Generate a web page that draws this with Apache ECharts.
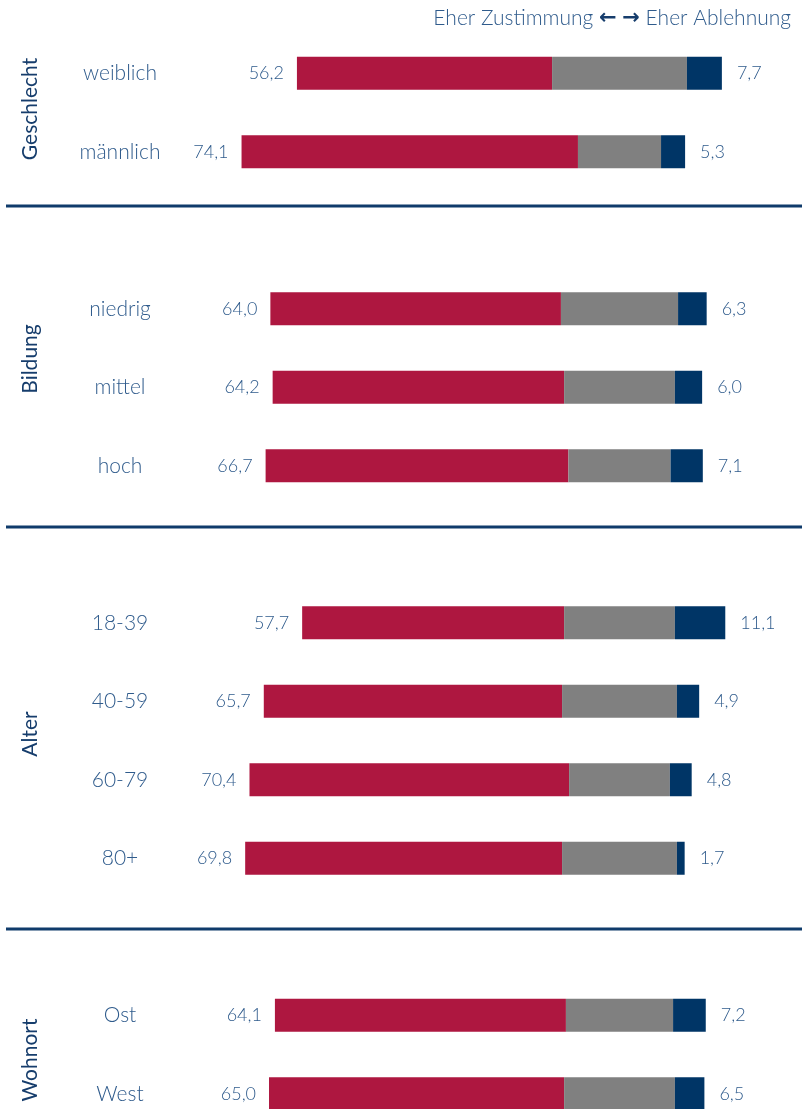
<!DOCTYPE html>
<html>
<head>
<meta charset="utf-8">
<script src="https://cdn.jsdelivr.net/npm/echarts@6/dist/echarts.min.js"></script>
<style>
html,body{margin:0;padding:0;background:#fff;}
#chart{width:802px;height:1109px;}
</style>
</head>
<body>
<div id="chart"></div>
<script>
// Categories (blank entries separate the groups)
const categories = ['weiblich', 'männlich', ' ', 'niedrig', 'mittel', 'hoch', '  ', '18-39', '40-59', '60-79', '80+', '   ', 'Ost', 'West'];
// Eher Zustimmung
const agree = [56.2, 74.1, null, 64.0, 64.2, 66.7, null, 57.7, 65.7, 70.4, 69.8, null, 64.1, 65.0];
// Teils/teils (neutral, centred on zero)
const neutral = [29.7, 18.3, null, 25.8, 24.4, 22.5, null, 24.4, 25.3, 22.2, 25.3, null, 23.6, 24.4];
// Eher Ablehnung
const disagree = [7.7, 5.3, null, 6.3, 6.0, 7.1, null, 11.1, 4.9, 4.8, 1.7, null, 7.2, 6.5];
// Group labels
const groups = ['Geschlecht', 'Bildung', 'Alter', 'Wohnort'];

const FONT = 'Lato, "Open Sans", sans-serif';
const RED = '#ae1740', GREY = '#808080', BLUE = '#003566';
const TXT = '#2f5b8c', DARK = '#163d6c';

const fmt = v => (Math.abs(v)).toFixed(1).replace('.', ',');

const chart = echarts.init(document.getElementById('chart'), null, {renderer: 'canvas'});

// invisible offset so that the neutral block is centred on zero
const offset = agree.map((v, i) => v == null ? null : -(v + neutral[i] / 2));

const groupPos = [[30, 109], [30, 359], [30, 734], [30, 1060]];
const lineYs = [206, 527, 929];

const graphic = [];
groups.forEach((g, i) => {
  graphic.push({
    type: 'text', x: groupPos[i][0], y: groupPos[i][1], rotation: Math.PI / 2,
    style: {text: g, fill: DARK, font: '400 21px ' + FONT, textAlign: 'center', textVerticalAlign: 'middle'}
  });
});
lineYs.forEach(y => {
  graphic.push({type: 'line', shape: {x1: 6, y1: y, x2: 802, y2: y}, style: {stroke: '#0f3b6b', lineWidth: 3}});
});

chart.setOption({
  animation: false,
  backgroundColor: '#ffffff',
  textStyle: {fontFamily: FONT},
  title: {
    text: 'Eher Zustimmung {a|←} {a|→} Eher Ablehnung',
    right: 6, top: 3,
    textStyle: {
      fontFamily: FONT, fontSize: 21, fontWeight: 300, color: TXT,
      rich: {a: {fontSize: 21, fontWeight: 'bold', color: DARK, fontFamily: 'DejaVu Sans'}}
    }
  },
  graphic: graphic,
  grid: {left: 165.5, width: 635.6, top: 73.25, height: 1020.5, containLabel: false},
  xAxis: {
    type: 'value', min: -100, max: 40, show: false
  },
  yAxis: {
    type: 'category', data: categories, inverse: true, boundaryGap: false,
    axisLine: {show: false}, axisTick: {show: false}, splitLine: {show: false},
    axisLabel: {align: 'center', margin: 45.5, color: TXT, fontSize: 21, fontWeight: 300, fontFamily: FONT}
  },
  series: [
    {
      name: 'offset', type: 'bar', stack: 's', stackStrategy: 'all', data: offset, barWidth: 33,
      itemStyle: {color: 'rgba(0,0,0,0)'}, silent: true
    },
    {
      name: 'Eher Zustimmung', type: 'bar', stack: 's', stackStrategy: 'all', data: agree, barWidth: 33,
      itemStyle: {color: RED},
      label: {show: true, position: 'left', distance: 13, color: TXT, fontSize: 18, fontWeight: 300, fontFamily: FONT,
        formatter: p => p.value == null ? '' : fmt(p.value)}
    },
    {
      name: 'Teils/teils', type: 'bar', stack: 's', stackStrategy: 'all', data: neutral, barWidth: 33,
      itemStyle: {color: GREY}
    },
    {
      name: 'Eher Ablehnung', type: 'bar', stack: 's', stackStrategy: 'all', data: disagree, barWidth: 33,
      itemStyle: {color: BLUE},
      label: {show: true, position: 'right', distance: 15, color: TXT, fontSize: 18, fontWeight: 300, fontFamily: FONT,
        formatter: p => p.value == null ? '' : fmt(p.value)}
    }
  ]
});
</script>
</body>
</html>
